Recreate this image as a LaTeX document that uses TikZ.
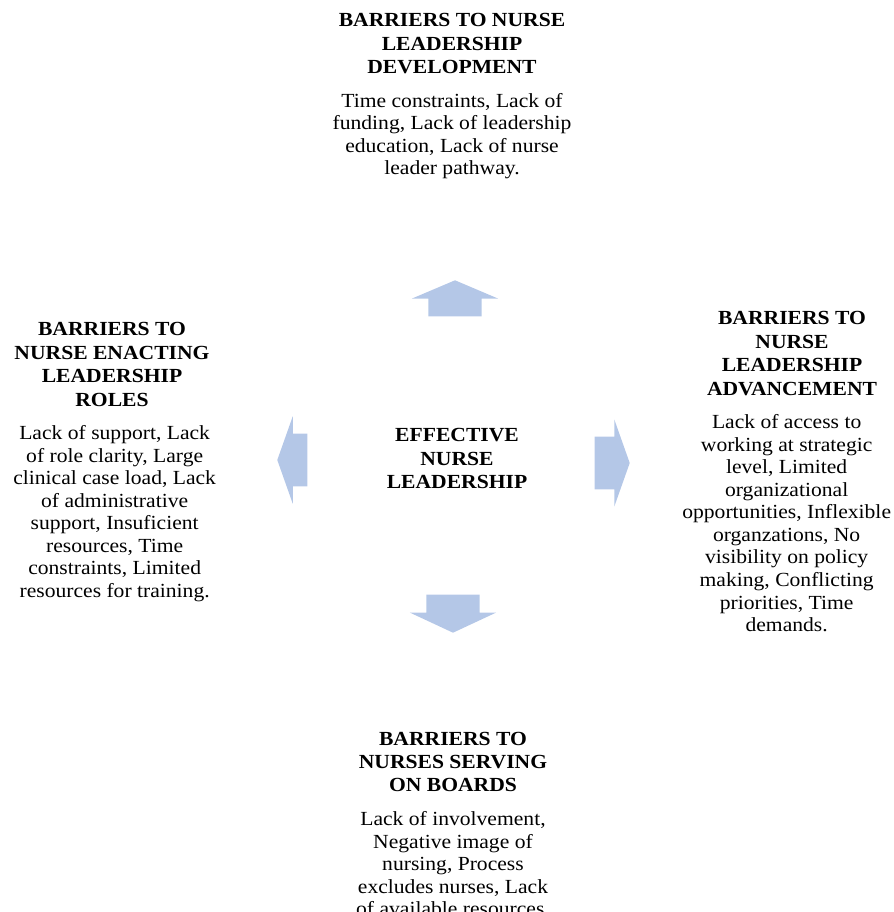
\documentclass[tikz,border=0pt]{standalone}
\usepackage{fontspec}
\setmainfont{Liberation Serif}[FakeStretch=1.08]
\usepackage{xcolor}
\usepackage{tikz}
\usetikzlibrary{shapes.arrows, positioning}
\definecolor{arrowblue}{HTML}{B4C7E7}

\begin{document}
\begin{tikzpicture}[x=0.75pt, y=-0.75pt, node distance=14pt,
    head/.style={align=center, inner sep=0pt, font=\bfseries\fontsize{15}{17.6}\selectfont},
    body/.style={align=center, inner sep=0pt, font=\fontsize{15}{16.9}\selectfont},
    blockarrow/.style={single arrow, fill=arrowblue, draw=none, inner xsep=0pt, inner ysep=19.7pt,
        anchor=tip, single arrow head extend=12.4pt}]
    \useasboundingbox (0,0) rectangle (893,912);

    % Centre
    \node [head] (core) at (457,458.5) {EFFECTIVE\\NURSE\\LEADERSHIP};

    % Top block
    \node [head] (devhead) at (452,43.7) {BARRIERS TO NURSE\\LEADERSHIP\\DEVELOPMENT};
    \node [body, below=of devhead] (devtext) {Time constraints, Lack of\\funding, Lack of leadership\\education, Lack of nurse\\leader pathway.};

    % Left block
    \node [head] (rolehead) at (112,364.5) {BARRIERS TO\\NURSE ENACTING\\LEADERSHIP\\ROLES};
    \node [body, below=of rolehead, xshift=2pt] (roletext) {Lack of support, Lack\\of role clarity, Large\\clinical case load, Lack\\of administrative\\support, Insuficient\\resources, Time\\constraints, Limited\\resources for training.};

    % Right block
    \node [head] (advhead) at (792,353.5) {BARRIERS TO\\NURSE\\LEADERSHIP\\ADVANCEMENT};
    \node [body, below=of advhead, xshift=-4pt] (advtext) {Lack of access to\\working at strategic\\level, Limited\\organizational\\opportunities, Inflexible\\organzations, No\\visibility on policy\\making, Conflicting\\priorities, Time\\demands.};

    % Bottom block
    \node [head] (boardhead) at (453,762) {BARRIERS TO\\NURSES SERVING\\ON BOARDS};
    \node [body, below=of boardhead] (boardtext) {Lack of involvement,\\Negative image of\\nursing, Process\\excludes nurses, Lack\\of available resources.};

    % Arrows
    \node [blockarrow, rotate=90, minimum height=27pt, single arrow tip angle=134] (toup) at (455,280) {};
    \node [blockarrow, rotate=270, minimum height=28.5pt, single arrow tip angle=130] (todown) at (453,633) {};
    \node [blockarrow, rotate=180, minimum height=22.5pt, single arrow tip angle=141, inner ysep=19.5pt, single arrow head extend=13.1pt] (toleft) at (277,460) {};
    \node [blockarrow, rotate=0, minimum height=26.25pt, single arrow tip angle=141, inner ysep=19.5pt, single arrow head extend=12.8pt] (toright) at (630,463) {};
\end{tikzpicture}
\end{document}
